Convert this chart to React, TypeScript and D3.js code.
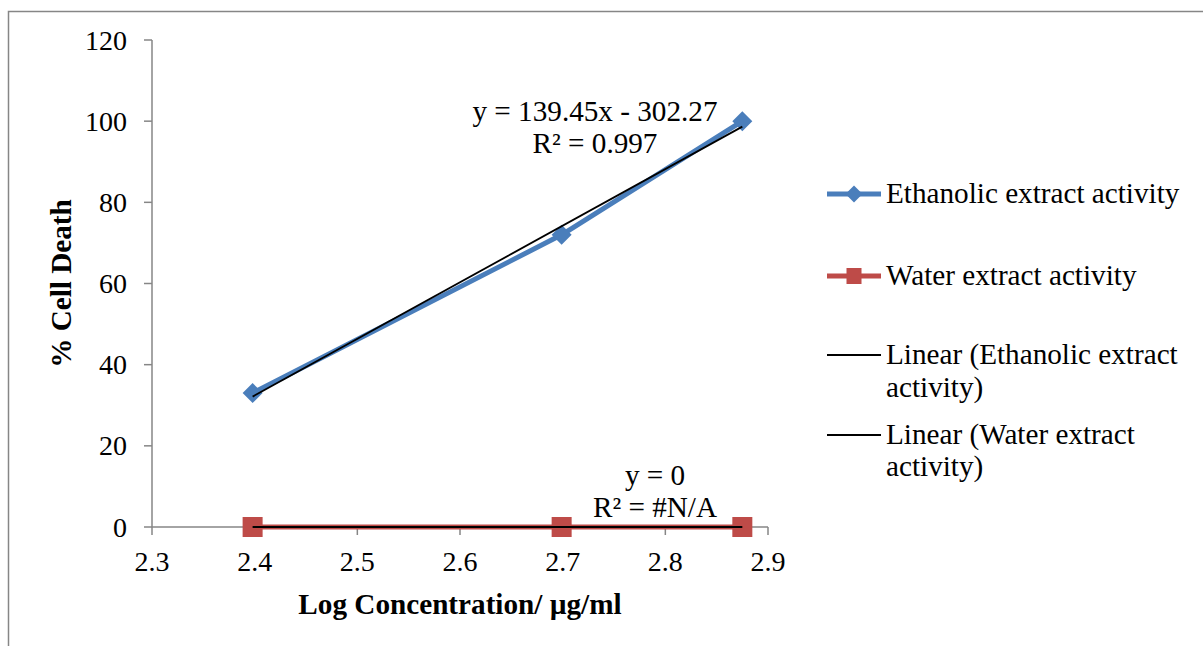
import * as d3 from 'd3';
import { useEffect } from 'react';

// log concentration values (x)
const logConc = [2.398, 2.699, 2.875];
// % cell death
const ethanolic = [33, 72, 100];
const water = [0, 0, 0];

const xTicks = [2.3, 2.4, 2.5, 2.6, 2.7, 2.8, 2.9];
const yTicks = [0, 20, 40, 60, 80, 100, 120];

// trendline coefficients as printed on the chart
const ethSlope = 139.45;
const ethIntercept = -302.27;

const seriesNames = ['Ethanolic extract activity', 'Water extract activity'];

const W = 1203;
const H = 646;
const FONT = '"Liberation Serif", "Times New Roman", serif';
const BLUE = '#4a7ebb';
const RED = '#be4b48';
const GRID = '#868686';
const FS = 29.2; // labels, legend, titles
const TICK_FS = 28;

export default function App() {
	useEffect(() => {
		document.body.style.margin = '0';
	}, []);

	const x = d3.scaleLinear().domain([2.3, 2.9]).range([152, 768]);
	const y = d3.scaleLinear().domain([0, 120]).range([527, 40]);

	const line = d3
		.line<[number, number]>()
		.x((d) => x(d[0]))
		.y((d) => y(d[1]));

	const ethPts = logConc.map((v, i) => [v, ethanolic[i]] as [number, number]);
	const waterPts = logConc.map((v, i) => [v, water[i]] as [number, number]);
	const xMin = d3.min(logConc)!;
	const xMax = d3.max(logConc)!;
	const ethTrend: [number, number][] = [
		[xMin, ethSlope * xMin + ethIntercept],
		[xMax, ethSlope * xMax + ethIntercept],
	];
	const waterTrend: [number, number][] = [
		[xMin, 0],
		[xMax, 0],
	];

	const diamond = (cx: number, cy: number, r: number) =>
		`M${cx},${cy - r}L${cx + r},${cy}L${cx},${cy + r}L${cx - r},${cy}Z`;

	const legX0 = 827;
	const legX1 = 881;
	const legMid = (legX0 + legX1) / 2;
	const legTextX = 886;

	return (
		<svg width={W} height={H} style={{ display: 'block', fontFamily: FONT }}>
			<rect x={0} y={0} width={W} height={H} fill="#fff" />
			{/* chart border */}
			<rect x={8.5} y={11.5} width={W + 10} height={H + 10} fill="none" stroke={GRID} strokeWidth={1.5} />

			{/* axes */}
			<line x1={x(2.3)} x2={x(2.9)} y1={y(0)} y2={y(0)} stroke={GRID} strokeWidth={1.5} />
			<line x1={x(2.3)} x2={x(2.3)} y1={y(0)} y2={y(120)} stroke={GRID} strokeWidth={1.5} />
			{yTicks.map((t) => (
				<g key={'y' + t}>
					<line x1={x(2.3) - 8} x2={x(2.3)} y1={y(t)} y2={y(t)} stroke={GRID} strokeWidth={1.5} />
					<text x={127} y={y(t) + 9.5} textAnchor="end" fontSize={TICK_FS} fill="#000">
						{t}
					</text>
				</g>
			))}
			{xTicks.map((t) => (
				<g key={'x' + t}>
					<line x1={x(t)} x2={x(t)} y1={y(0)} y2={y(0) + 8} stroke={GRID} strokeWidth={1.5} />
					<text x={x(t)} y={571} textAnchor="middle" fontSize={TICK_FS} fill="#000">
						{t.toFixed(1)}
					</text>
				</g>
			))}

			{/* axis titles */}
			<text x={460} y={614} textAnchor="middle" fontSize={FS} fontWeight="bold">
				Log Concentration/ µg/ml
			</text>
			<text
				transform={`translate(71,${y(60)}) rotate(-90)`}
				textAnchor="middle"
				fontSize={FS}
				fontWeight="bold"
			>
				% Cell Death
			</text>

			{/* series */}
			<path d={line(ethPts)!} fill="none" stroke={BLUE} strokeWidth={5} strokeLinejoin="round" />
			{ethPts.map((d, i) => (
				<path key={'e' + i} d={diamond(x(d[0]), y(d[1]), 10)} fill={BLUE} />
			))}
			<path d={line(waterPts)!} fill="none" stroke={RED} strokeWidth={5} />
			{waterPts.map((d, i) => (
				<rect key={'w' + i} x={x(d[0]) - 10} y={y(d[1]) - 10} width={20} height={20} fill={RED} />
			))}

			{/* trendlines */}
			<path d={line(ethTrend)!} fill="none" stroke="#000" strokeWidth={1.8} />
			<path d={line(waterTrend)!} fill="none" stroke="#000" strokeWidth={1.8} />

			{/* trendline labels */}
			<text x={595} y={121} textAnchor="middle" fontSize={FS}>
				y = 139.45x - 302.27
			</text>
			<text x={595} y={153} textAnchor="middle" fontSize={FS}>
				R² = 0.997
			</text>
			<text x={655} y={485} textAnchor="middle" fontSize={FS}>
				y = 0
			</text>
			<text x={655} y={517} textAnchor="middle" fontSize={FS}>
				R² = #N/A
			</text>

			{/* legend */}
			<g fontSize={FS}>
				<line x1={legX0} x2={legX1} y1={194} y2={194} stroke={BLUE} strokeWidth={5} />
				<path d={diamond(legMid, 194, 8.5)} fill={BLUE} />
				<text x={legTextX} y={203}>{seriesNames[0]}</text>

				<line x1={legX0} x2={legX1} y1={276} y2={276} stroke={RED} strokeWidth={5} />
				<rect x={legMid - 7.5} y={276 - 8} width={15} height={16} fill={RED} />
				<text x={legTextX} y={285}>{seriesNames[1]}</text>

				<line x1={legX0} x2={legX1} y1={355} y2={355} stroke="#000" strokeWidth={1.8} />
				<text x={legTextX} y={364}>Linear (Ethanolic extract</text>
				<text x={legTextX} y={397}>activity)</text>

				<line x1={legX0} x2={legX1} y1={435} y2={435} stroke="#000" strokeWidth={1.8} />
				<text x={legTextX} y={444}>Linear (Water extract</text>
				<text x={legTextX} y={476}>activity)</text>
			</g>
		</svg>
	);
}
